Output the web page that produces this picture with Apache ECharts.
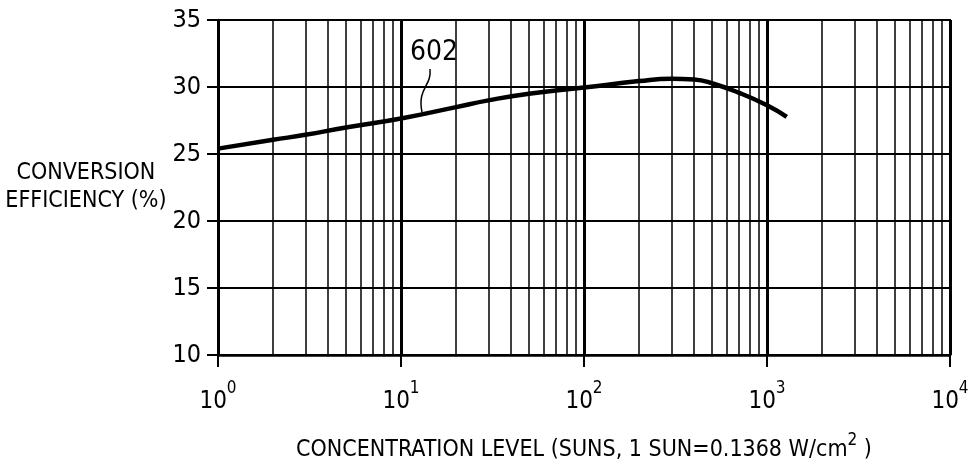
<!DOCTYPE html>
<html>
<head>
<meta charset="utf-8">
<script src="https://cdn.jsdelivr.net/npm/echarts@6/dist/echarts.min.js"></script>
<style>
  html, body { margin: 0; padding: 0; background: #fff; }
  #main { width: 968px; height: 464px; }
</style>
</head>
<body>
<div id="main"></div>
<script>
// 数据：聚光倍数（suns）与转换效率（%）
var suns = [1, 2, 3, 5, 10, 20, 30, 50, 100, 200, 300, 400, 500, 700, 1000, 1282];
var efficiency = [25.4, 26.06, 26.43, 26.98, 27.65, 28.5, 29.0, 29.5, 29.96, 30.44, 30.62, 30.56, 30.28, 29.58, 28.64, 27.77];
var yTicks = [10, 15, 20, 25, 30, 35];
var decades = [1, 10, 100, 1000];
var curveLabel = '602';

var FONT = '"Liberation Sans Narrow", "DejaVu Sans Condensed", "Liberation Sans", sans-serif';

// 每个数量级里的 2..9 细网格线
var minorLines = [];
for (var i in decades) {
    for (var k = 2; k <= 9; k++) {
        minorLines.push({ xAxis: decades[i] * k });
    }
}

var points = [];
for (var i in suns) {
    points.push([suns[i], efficiency[i]]);
}

var myChart = echarts.init(document.getElementById('main'), null, { renderer: 'canvas' });

var option = {
    animation: false,
    backgroundColor: '#fff',
    grid: {
        left: 218, right: 18, top: 20, bottom: 109,
        containLabel: false,
        outerBoundsMode: 'none',
        show: true, borderColor: '#000', borderWidth: 2
    },
    xAxis: {
        type: 'log',
        logBase: 10,
        min: 1,
        max: 10000,
        name: '{t|CONCENTRATION LEVEL (SUNS, 1 SUN=0.1368 W/cm}{s|2}{t| )}',
        nameLocation: 'middle',
        nameGap: 77,
        nameTextStyle: {
            rich: {
                t: { fontFamily: FONT, fontSize: 23, color: '#000', verticalAlign: 'bottom', lineHeight: 30 },
                s: { fontFamily: FONT, fontSize: 17, color: '#000', verticalAlign: 'top', lineHeight: 30 }
            }
        },
        axisLine: { show: true, lineStyle: { color: '#000', width: 2.5 } },
        axisTick: { show: true, inside: false, length: 12, lineStyle: { color: '#000', width: 2 } },
        axisLabel: {
            margin: 25,
            formatter: function (v) {
                var e = Math.round(Math.log(v) / Math.LN10);
                return '{b|10}{s|' + e + '}';
            },
            rich: {
                b: { fontFamily: FONT, fontSize: 24, color: '#000', verticalAlign: 'bottom', lineHeight: 34 },
                s: { fontFamily: FONT, fontSize: 17, color: '#000', verticalAlign: 'top', lineHeight: 34 }
            }
        },
        splitLine: { show: true, lineStyle: { color: '#000', width: 3 } },
        minorTick: { show: false },
        minorSplitLine: { show: false }
    },
    yAxis: {
        type: 'value',
        min: 10,
        max: 35,
        interval: 5,
        name: 'CONVERSION\nEFFICIENCY (%)',
        nameLocation: 'middle',
        nameRotate: 0,
        nameGap: 130,
        nameTextStyle: {
            fontFamily: FONT, fontSize: 23, color: '#000',
            align: 'center', verticalAlign: 'middle', lineHeight: 28
        },
        axisLine: { show: true, lineStyle: { color: '#000', width: 2.5 } },
        axisTick: { show: true, inside: false, length: 11, lineStyle: { color: '#000', width: 2 } },
        axisLabel: {
            margin: 17,
            fontFamily: FONT, fontSize: 25, color: '#000',
            formatter: function (v) {
                return yTicks.indexOf(v) >= 0 ? String(v) : '';
            }
        },
        splitLine: { show: true, lineStyle: { color: '#000', width: 2 } }
    },
    series: [{
        type: 'line',
        data: points,
        smooth: 0.5,
        showSymbol: false,
        lineStyle: { color: '#000', width: 4.5 },
        z: 5,
        markLine: {
            silent: true,
            symbol: ['none', 'none'],
            label: { show: false },
            lineStyle: { type: 'solid', color: '#000', width: 1.5 },
            data: minorLines,
            z: 1
        }
    }],
    graphic: [
        {
            type: 'text',
            left: 410, top: 39,
            style: { text: curveLabel, fontFamily: FONT, fontSize: 28, fill: '#000' }
        },
        {
            type: 'bezierCurve',
            shape: { x1: 430, y1: 69, cpx1: 432, cpy1: 86, cpx2: 417, cpy2: 88, x2: 422, y2: 112 },
            style: { stroke: '#000', lineWidth: 1.5, fill: null }
        }
    ]
};

myChart.setOption(option);
</script>
</body>
</html>
